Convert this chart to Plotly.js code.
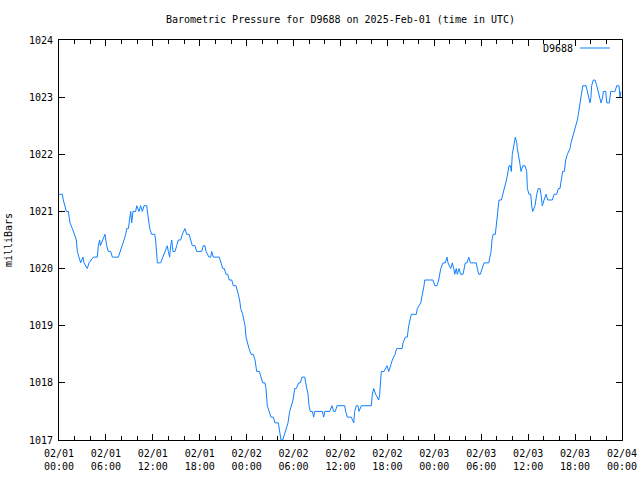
<!DOCTYPE html>
<html>
<head>
<meta charset="utf-8">
<script src="https://cdn.plot.ly/plotly-3.0.1.min.js"></script>
<style>html,body{margin:0;padding:0;background:#fff;}#chart{width:640px;height:480px;}</style>
</head>
<body>
<div id="chart"></div>
<script>
// hours since 2025-02-01 00:00 UTC
const hours = [
0.00,0.43,0.55,0.77,0.94,1.19,1.41,1.71,1.92,2.22,2.34,2.56,2.77,3.07,3.20,3.62,3.84,4.39,4.90,5.03,
5.20,5.29,5.54,5.88,6.10,6.31,6.61,6.82,7.59,7.80,8.10,8.31,8.53,8.66,8.87,8.95,9.08,9.17,9.30,9.46,
9.80,9.94,10.23,10.44,10.66,10.87,11.21,11.42,11.60,11.85,12.24,12.36,12.49,12.58,13.00,13.30,13.64,13.85,13.98,14.15,
14.28,14.41,14.58,14.84,15.05,15.26,15.56,15.77,16.11,16.33,16.63,16.84,17.05,17.39,17.61,18.25,18.46,18.67,18.80,19.18,
19.40,19.53,19.74,20.50,20.68,20.94,21.14,21.36,21.58,21.78,22.09,22.29,22.64,22.85,23.02,23.15,23.24,23.49,23.66,23.79,
23.92,24.09,24.30,24.56,24.85,25.07,25.28,25.62,25.80,26.05,26.35,26.47,26.64,26.90,27.11,27.41,27.62,28.05,28.26,28.39,
28.61,28.81,29.07,29.29,29.50,29.71,29.93,30.14,30.35,30.65,30.86,31.08,31.42,31.55,31.72,31.85,31.97,32.14,32.40,32.57,
32.70,33.68,33.85,33.98,34.62,34.91,35.13,35.34,35.55,35.77,36.54,36.66,36.87,37.38,37.60,37.69,37.81,38.02,38.24,38.37,
38.66,39.94,40.07,40.25,40.50,40.89,41.01,41.14,41.22,41.57,41.95,42.17,42.37,42.63,42.97,43.19,43.87,44.00,44.29,44.54,
44.72,44.93,45.06,45.70,45.82,46.26,46.43,46.55,46.68,46.77,47.83,48.05,48.34,48.56,48.69,48.82,49.11,49.41,49.62,49.75,
50.09,50.30,50.48,50.61,50.81,50.94,51.16,51.37,51.67,51.96,52.18,52.40,52.60,53.37,53.50,53.68,53.88,54.10,54.35,54.96,
55.12,55.25,55.38,55.51,55.80,55.93,56.06,56.14,56.27,56.57,56.78,57.00,57.13,57.30,57.42,57.55,57.72,57.85,57.97,58.19,
58.36,58.54,58.61,58.87,59.09,59.30,59.60,59.81,59.90,60.11,60.33,60.45,60.58,60.88,61.09,61.30,61.52,61.64,61.81,62.03,
62.28,62.50,63.09,63.31,63.65,63.86,64.07,64.29,64.42,64.63,64.80,65.01,65.35,65.48,65.70,65.90,66.08,66.29,66.42,66.54,
66.72,66.85,66.98,67.40,67.57,67.69,67.91,68.03,68.12,68.33,68.55,68.77,68.97,69.19,69.32,69.53,69.62,69.92,70.05,70.38,
70.56,70.89,71.11,71.33,71.62,71.74,71.87
];
const pressure = [
1021.3,1021.3,1021.2,1021.1,1021.0,1021.0,1020.8,1020.7,1020.6,1020.5,1020.3,1020.2,1020.1,1020.2,1020.1,1020.0,1020.1,1020.2,1020.2,1020.4,
1020.5,1020.4,1020.5,1020.6,1020.4,1020.3,1020.3,1020.2,1020.2,1020.3,1020.4,1020.5,1020.6,1020.7,1020.7,1020.8,1020.9,1021.0,1020.8,1021.0,
1021.0,1021.1,1021.0,1021.1,1021.0,1021.1,1021.1,1020.9,1020.7,1020.6,1020.6,1020.5,1020.3,1020.1,1020.1,1020.2,1020.3,1020.4,1020.3,1020.2,
1020.4,1020.5,1020.3,1020.3,1020.4,1020.5,1020.5,1020.6,1020.7,1020.6,1020.6,1020.5,1020.4,1020.4,1020.3,1020.3,1020.4,1020.4,1020.3,1020.2,
1020.2,1020.3,1020.2,1020.2,1020.1,1020.0,1020.0,1019.9,1019.9,1019.8,1019.8,1019.7,1019.7,1019.6,1019.5,1019.4,1019.3,1019.2,1019.1,1019.0,
1018.8,1018.7,1018.6,1018.5,1018.5,1018.4,1018.2,1018.2,1018.1,1018.0,1018.0,1017.9,1017.6,1017.5,1017.4,1017.4,1017.3,1017.3,1017.1,1017.0,
1017.0,1017.1,1017.2,1017.3,1017.5,1017.6,1017.7,1017.9,1017.9,1018.0,1018.0,1018.1,1018.1,1018.0,1017.9,1017.8,1017.6,1017.5,1017.5,1017.4,
1017.5,1017.5,1017.4,1017.5,1017.5,1017.6,1017.5,1017.5,1017.6,1017.6,1017.6,1017.5,1017.4,1017.4,1017.3,1017.3,1017.5,1017.6,1017.6,1017.5,
1017.6,1017.6,1017.8,1017.9,1017.8,1017.7,1017.8,1018.1,1018.2,1018.2,1018.3,1018.2,1018.3,1018.4,1018.5,1018.6,1018.6,1018.7,1018.8,1018.8,
1019.0,1019.1,1019.2,1019.2,1019.3,1019.4,1019.5,1019.6,1019.7,1019.8,1019.8,1019.7,1019.7,1019.8,1019.9,1020.0,1020.1,1020.1,1020.2,1020.1,
1020.0,1020.1,1020.0,1019.9,1020.0,1019.9,1020.0,1019.9,1019.9,1020.1,1020.1,1020.2,1020.1,1020.1,1020.0,1019.9,1019.9,1020.0,1020.1,1020.1,
1020.2,1020.3,1020.5,1020.6,1020.6,1020.8,1020.9,1021.1,1021.2,1021.2,1021.3,1021.4,1021.5,1021.6,1021.7,1021.8,1021.8,1021.7,1022.0,1022.2,
1022.3,1022.2,1022.1,1021.9,1021.7,1021.8,1021.8,1021.7,1021.4,1021.3,1021.3,1021.1,1021.0,1021.1,1021.3,1021.4,1021.4,1021.3,1021.1,1021.2,
1021.3,1021.2,1021.2,1021.3,1021.3,1021.4,1021.4,1021.6,1021.7,1021.7,1021.9,1022.0,1022.1,1022.2,1022.3,1022.4,1022.5,1022.6,1022.7,1022.8,
1023.0,1023.1,1023.2,1023.2,1023.1,1023.0,1022.9,1023.0,1023.2,1023.3,1023.3,1023.2,1023.1,1023.0,1022.9,1023.0,1023.1,1023.1,1022.9,1022.9,
1023.1,1023.1,1023.1,1023.2,1023.2,1023.0,1023.1
];
const xTickVals = [0,6,12,18,24,30,36,42,48,54,60,66,72];
const xTickText = ['02/01<br>00:00','02/01<br>06:00','02/01<br>12:00','02/01<br>18:00',
  '02/02<br>00:00','02/02<br>06:00','02/02<br>12:00','02/02<br>18:00',
  '02/03<br>00:00','02/03<br>06:00','02/03<br>12:00','02/03<br>18:00','02/04<br>00:00'];
const seriesName = 'D9688';
const chartTitle = 'Barometric Pressure for D9688 on 2025-Feb-01 (time in UTC)';
const yTitle = 'milliBars';

const lineColor = '#1080ff';
const font = {family: '"DejaVu Sans Mono", "Liberation Mono", monospace', size: 10, color: '#000'};

const trace = {
  x: hours, y: pressure, type: 'scatter', mode: 'lines', name: seriesName,
  line: {color: lineColor, width: 1}, showlegend: false
};

const layout = {
  width: 640, height: 480,
  margin: {l: 59, r: 18, t: 40, b: 40, pad: 0},
  paper_bgcolor: '#fff', plot_bgcolor: '#fff',
  font: font,
  title: {text: chartTitle, font: font, x: 0.5, xref: 'paper', y: 1 - 19/480, yref: 'container', yanchor: 'middle'},
  xaxis: {
    range: [0, 72], tickmode: 'array', tickvals: xTickVals, ticktext: xTickText,
    ticks: 'inside', ticklen: 6, tickcolor: '#000', tickwidth: 1,
    minor: {dtick: 2, tick0: 0, ticks: 'inside', ticklen: 4, tickcolor: '#000', tickwidth: 1},
    showline: true, linecolor: '#000', linewidth: 1, mirror: 'allticks',
    showgrid: false, zeroline: false, tickfont: font, ticklabelstandoff: 4
  },
  yaxis: {
    range: [1017, 1024], dtick: 1, tick0: 1017, tickformat: 'd',
    ticks: 'inside', ticklen: 6, tickcolor: '#000', tickwidth: 1,
    showline: true, linecolor: '#000', linewidth: 1, mirror: 'allticks',
    showgrid: false, zeroline: false, tickfont: font, ticklabelstandoff: 3,
    title: {text: yTitle, font: font, standoff: 14}
  },
  annotations: [{
    text: seriesName, xref: 'paper', yref: 'paper', x: (575-59)/563, y: 1 - 9/400,
    xanchor: 'right', yanchor: 'middle', showarrow: false, font: font
  }],
  shapes: [{
    type: 'line', xref: 'paper', yref: 'paper', x0: (580-59)/563, x1: (610-59)/563,
    y0: 1 - 8/400, y1: 1 - 8/400, line: {color: lineColor, width: 1}
  }]
};

Plotly.newPlot('chart', [trace], layout, {staticPlot: true, displayModeBar: false});
</script>
</body>
</html>
